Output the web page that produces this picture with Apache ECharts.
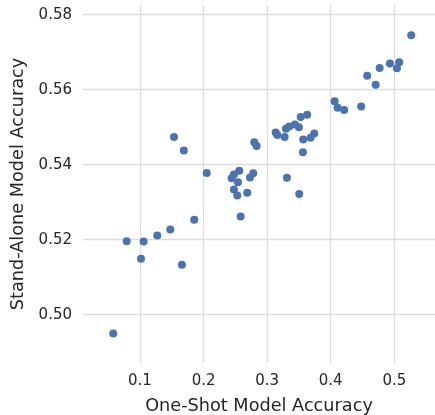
<!DOCTYPE html>
<html>
<head>
<meta charset="utf-8">
<script src="https://cdn.jsdelivr.net/npm/echarts@6/dist/echarts.min.js"></script>
<style>
html,body{margin:0;padding:0;background:#fff;}
#chart{width:435px;height:415px;}
</style>
</head>
<body>
<div id="chart"></div>
<script>
var oneShotAcc = [
  0.058, 0.0791, 0.1058, 0.1016, 0.1272, 0.1477, 0.166, 0.1854, 0.1535, 0.169, 0.205,
  0.2441, 0.2478, 0.2561, 0.2541, 0.2478, 0.2530, 0.2687, 0.2730, 0.2782, 0.2583, 0.3311, 0.3505,
  0.2797, 0.2835, 0.3134, 0.3160, 0.3275, 0.3296, 0.3348, 0.3437, 0.3500, 0.3527, 0.3630, 0.3568, 0.3684, 0.3741, 0.3563,
  0.4061, 0.4108, 0.4212, 0.4479, 0.4574, 0.4706, 0.4769, 0.4931, 0.5041, 0.5077, 0.5266
];
var standAloneAcc = [
  0.4950, 0.5196, 0.5195, 0.5149, 0.5211, 0.5227, 0.5133, 0.5253, 0.5474, 0.5438, 0.5378,
  0.5364, 0.5374, 0.5384, 0.5353, 0.5334, 0.5318, 0.5325, 0.5366, 0.5377, 0.5262, 0.5365, 0.5322,
  0.5460, 0.5450, 0.5486, 0.5479, 0.5474, 0.5496, 0.5502, 0.5507, 0.5500, 0.5527, 0.5533, 0.5467, 0.5472, 0.5483, 0.5433,
  0.5569, 0.5552, 0.5546, 0.5555, 0.5637, 0.5613, 0.5658, 0.5670, 0.5657, 0.5673, 0.5745
];
var xTicks = [0.1, 0.2, 0.3, 0.4, 0.5];
var yTicks = [0.50, 0.52, 0.54, 0.56, 0.58];
var xTitle = 'One-Shot Model Accuracy';
var yTitle = 'Stand-Alone Model Accuracy';

var points = oneShotAcc.map(function (x, i) { return [x, standAloneAcc[i]]; });

var chart = echarts.init(document.getElementById('chart'), null, {renderer: 'canvas'});
var textColor = '#262626';
var font = 'DejaVu Sans';
chart.setOption({
  animation: false,
  backgroundColor: '#ffffff',
  grid: {left: 83, right: 0, top: 5, bottom: 52, containLabel: false, outerBoundsMode: 'none'},
  xAxis: {
    type: 'value',
    min: 0.0104,
    max: 0.564,
    name: xTitle,
    nameLocation: 'middle',
    nameGap: 34,
    nameTextStyle: {fontSize: 17.7, color: textColor, fontFamily: font},
    axisLine: {show: false},
    axisTick: {show: false, customValues: xTicks},
    axisLabel: {customValues: xTicks, fontSize: 15, color: textColor, fontFamily: font, margin: 11,
      formatter: function (v) { return v.toFixed(1); }},
    splitLine: {show: true, lineStyle: {color: '#dddddd', width: 1.3}}
  },
  yAxis: {
    type: 'value',
    min: 0.4871,
    max: 0.5826,
    name: yTitle,
    nameLocation: 'middle',
    nameGap: 51,
    nameTextStyle: {fontSize: 17.7, color: textColor, fontFamily: font},
    axisLine: {show: false},
    axisTick: {show: false, customValues: yTicks},
    axisLabel: {customValues: yTicks, fontSize: 15, color: textColor, fontFamily: font, margin: 11,
      formatter: function (v) { return v.toFixed(2); }},
    splitLine: {show: true, lineStyle: {color: '#dddddd', width: 1.3}}
  },
  series: [{
    type: 'scatter',
    data: points,
    symbol: 'circle',
    symbolSize: 8,
    itemStyle: {color: '#4c72b0', opacity: 1}
  }]
});
</script>
</body>
</html>
